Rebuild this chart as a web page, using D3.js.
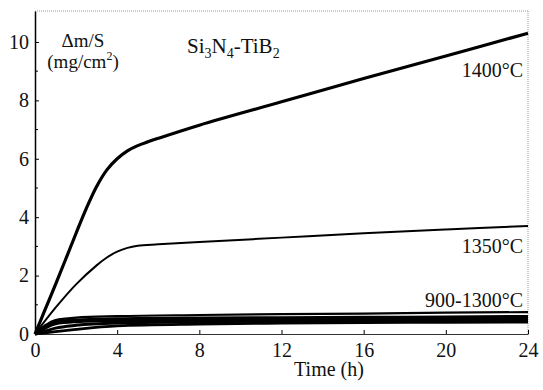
<!DOCTYPE html>
<html>
<head>
<meta charset="utf-8">
<script src="https://cdn.jsdelivr.net/npm/d3@7"></script>
<style>
  body { margin: 0; background: #fff; }
  svg text { fill: #111; }
</style>
</head>
<body>
<svg id="chart" width="543" height="390"></svg>
<script>
// time points (h) and mass gain (mg/cm2)
const t1400 = [0, 0.5, 1, 1.5, 2, 2.5, 3, 3.5, 4, 4.5, 5, 5.5, 6, 8, 12, 16, 20, 24];
const v1400 = [0, 0.85, 1.7, 2.57, 3.45, 4.3, 5.05, 5.62, 6.0, 6.27, 6.45, 6.58, 6.7, 7.15, 7.95, 8.75, 9.52, 10.3];

const t1350 = [0, 1, 2, 3, 3.5, 4, 4.5, 5, 6, 8, 12, 16, 20, 24];
const v1350 = [0, 0.9, 1.7, 2.35, 2.62, 2.82, 2.95, 3.02, 3.07, 3.15, 3.3, 3.45, 3.58, 3.7];

const tLow = [0, 0.5, 1, 2, 4, 8, 12, 16, 20, 24];
const v1300 = [0, 0.3, 0.48, 0.56, 0.61, 0.65, 0.68, 0.7, 0.73, 0.75];
const v1250 = [0, 0.25, 0.42, 0.48, 0.52, 0.55, 0.56, 0.57, 0.58, 0.6];
const v1200 = [0, 0.2, 0.35, 0.42, 0.46, 0.48, 0.5, 0.51, 0.52, 0.53];
const v1100 = [0, 0.1, 0.2, 0.3, 0.38, 0.42, 0.44, 0.45, 0.46, 0.47];
const v900  = [0, 0.04, 0.08, 0.16, 0.28, 0.34, 0.37, 0.39, 0.4, 0.41];

const xTicks = [0, 4, 8, 12, 16, 20, 24];
const yTicks = [0, 2, 4, 6, 8, 10];

const serif = "Liberation Serif, DejaVu Serif, serif";
const svg = d3.select("#chart");
const plotL = 35, plotR = 528, plotT = 11, plotB = 334;

const x = d3.scaleLinear().domain([0, 24]).range([plotL, plotR]);
const y = d3.scaleLinear().domain([0, 11.06]).range([plotB, plotT]);

// frame: dotted top and right
svg.append("line").attr("x1", plotL).attr("x2", plotR).attr("y1", plotT).attr("y2", plotT)
    .attr("stroke", "#999").attr("stroke-dasharray", "1,1");
svg.append("line").attr("x1", plotR).attr("x2", plotR).attr("y1", plotT).attr("y2", plotB)
    .attr("stroke", "#999").attr("stroke-dasharray", "1,1");

// x axis
const xAxis = svg.append("g").attr("transform", `translate(0,${plotB})`)
    .call(d3.axisBottom(x).tickValues(xTicks).tickSizeInner(-4).tickSizeOuter(0).tickPadding(10));
xAxis.attr("font-family", serif).attr("font-size", 20);
xAxis.select(".domain").attr("stroke", "#333");
xAxis.selectAll("text").attr("dy", "0.71em").attr("y", 9);

// y axis
const yAxis = svg.append("g").attr("transform", `translate(${plotL},0)`)
    .call(d3.axisLeft(y).tickValues(yTicks).tickSizeInner(-4).tickSizeOuter(0).tickPadding(7));
yAxis.attr("font-family", serif).attr("font-size", 20);
yAxis.select(".domain").attr("stroke", "#000").attr("stroke-width", 1.5);
yAxis.selectAll("text").attr("x", -6);

// minor y ticks at odd values
svg.append("g").selectAll("line").data(d3.range(1, 11, 2)).join("line")
    .attr("x1", plotL).attr("x2", plotL + 3)
    .attr("y1", d => y(d)).attr("y2", d => y(d))
    .attr("stroke", "#000");

const smooth = d3.line().x(d => x(d[0])).y(d => y(d[1])).curve(d3.curveCatmullRom.alpha(0.5));
const mono = d3.line().x(d => x(d[0])).y(d => y(d[1])).curve(d3.curveMonotoneX);
const series = [
  { t: tLow, v: v900,  w: 2.8, gen: mono },
  { t: tLow, v: v1100, w: 3, gen: mono },
  { t: tLow, v: v1200, w: 3, gen: mono },
  { t: tLow, v: v1250, w: 3, gen: mono },
  { t: tLow, v: v1300, w: 2.2, gen: mono },
  { t: t1350, v: v1350, w: 2, gen: smooth },
  { t: t1400, v: v1400, w: 3.2, gen: smooth }
];
series.forEach(s => {
  svg.append("path")
      .datum(s.t.map((t, i) => [t, s.v[i]]))
      .attr("fill", "none")
      .attr("stroke", "#000")
      .attr("stroke-width", s.w)
      .attr("stroke-linejoin", "round")
      .attr("d", s.gen);
});

// labels
const labels = [
  { text: "1400°C", yv: 8.8 },
  { text: "1350°C", yv: 2.78 },
  { text: "900-1300°C", yv: 0.93 }
];
svg.selectAll(".lbl").data(labels).join("text")
    .attr("class", "lbl")
    .attr("x", plotR - 5)
    .attr("y", d => y(d.yv))
    .attr("text-anchor", "end")
    .attr("font-family", serif)
    .attr("font-size", 20)
    .text(d => d.text);

const title = svg.append("text").attr("x", 187).attr("y", 53)
    .attr("font-family", serif).attr("font-size", 21);
title.append("tspan").text("Si");
title.append("tspan").text("3").attr("dy", 5).attr("font-size", 14);
title.append("tspan").text("N").attr("dy", -5);
title.append("tspan").text("4").attr("dy", 5).attr("font-size", 14);
title.append("tspan").text("-TiB").attr("dy", -5);
title.append("tspan").text("2").attr("dy", 5).attr("font-size", 14);

svg.append("text").attr("x", 83).attr("y", 47).attr("text-anchor", "middle")
    .attr("font-family", serif).attr("font-size", 19).text("Δm/S");
const unit = svg.append("text").attr("x", 83).attr("y", 68).attr("text-anchor", "middle")
    .attr("font-family", serif).attr("font-size", 19);
unit.append("tspan").text("(mg/cm");
unit.append("tspan").text("2").attr("dy", -8).attr("font-size", 12);
unit.append("tspan").text(")").attr("dy", 8);

svg.append("text").attr("x", 329).attr("y", 376).attr("text-anchor", "middle")
    .attr("font-family", serif).attr("font-size", 20).text("Time (h)");
</script>
</body>
</html>
